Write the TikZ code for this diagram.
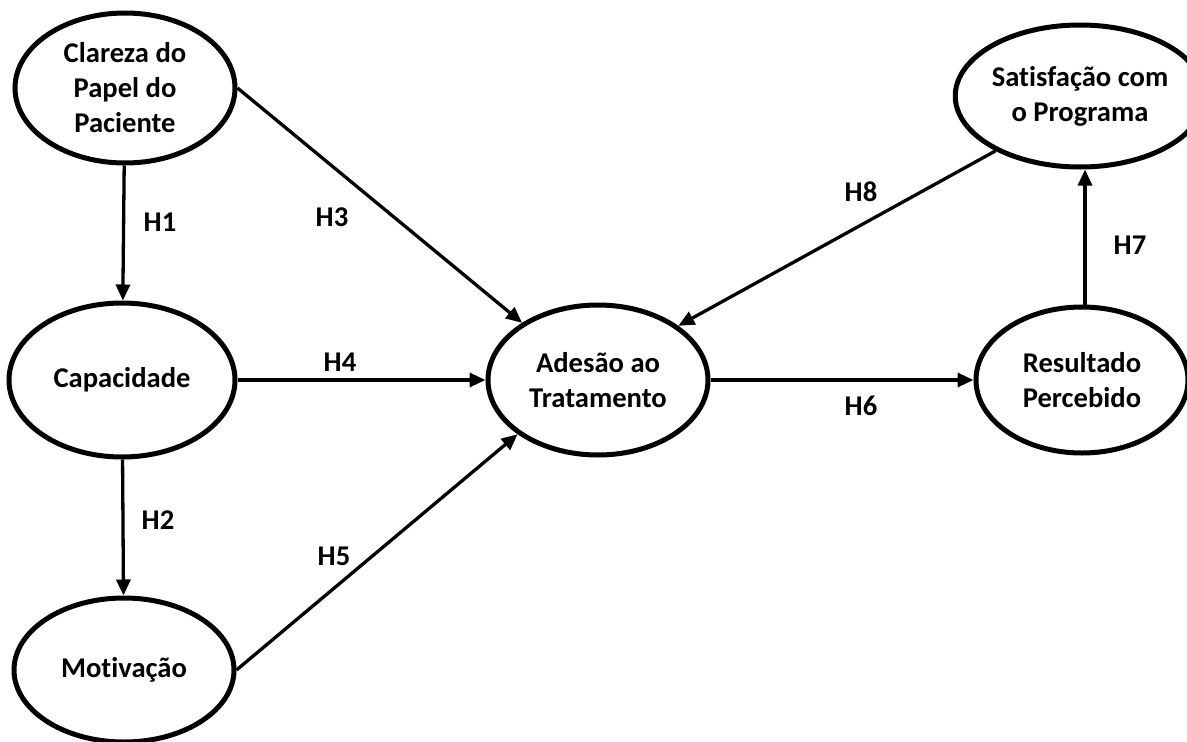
\documentclass[tikz,border=0pt]{standalone}
\usepackage{fontspec}
\setmainfont{Carlito}[Ligatures={NoCommon,NoContextual}]
\usetikzlibrary{shapes.geometric,arrows.meta}
\begin{document}
\begin{tikzpicture}[x=1pt,y=-1pt,
  construct/.style={ellipse,draw,line width=5pt,inner sep=0pt,
    minimum width=220pt,minimum height=150pt,align=center,
    font=\fontsize{28.6}{35}\selectfont\bfseries},
  link/.style={line width=3.3pt,-{Triangle[length=16pt,width=14pt]}},
  hlabel/.style={font=\fontsize{28.6}{35}\selectfont\bfseries,inner sep=0pt}]
\useasboundingbox (0,0) rectangle (1187,742);
\node[construct] (cla) at (125,88) {Clareza do\\Papel do\\Paciente};
\node[construct,minimum width=226pt,minimum height=154pt] (cap) at (122,380) {Capacidade};
\node[construct,minimum height=144pt] (mot) at (124,670) {Motivação};
\node[construct] (ade) at (598,380) {Adesão ao\\Tratamento};
\node[construct,minimum width=212pt,minimum height=146pt] (res) at (1082,380) {Resultado\\Percebido};
\node[construct,minimum width=212pt,minimum height=142pt] (sat) at (1080,96) {Satisfação com\\o Programa};
\draw[link] (cla) -- (cap);
\draw[link] (cap) -- (mot);
\draw[link] (cla.east) -- (ade.143.4);
\draw[link] (cap.east) -- (ade.west);
\draw[link] (mot.east) -- (ade.214.9);
\draw[link] (ade.east) -- (res.west);
\draw[link] (res.north -| 1085,0) -- (sat.south -| 1085,0);
\draw[link] (sat.213.3) -- (ade.34.5);
\node[hlabel] (h1) at (160,222) {H1};
\node[hlabel] (h2) at (158,520) {H2};
\node[hlabel] (h3) at (332,217) {H3};
\node[hlabel] (h4) at (340,362) {H4};
\node[hlabel] (h5) at (334,556) {H5};
\node[hlabel] (h6) at (861,406) {H6};
\node[hlabel] (h7) at (1130,245) {H7};
\node[hlabel] (h8) at (861,192) {H8};
\end{tikzpicture}
\end{document}
